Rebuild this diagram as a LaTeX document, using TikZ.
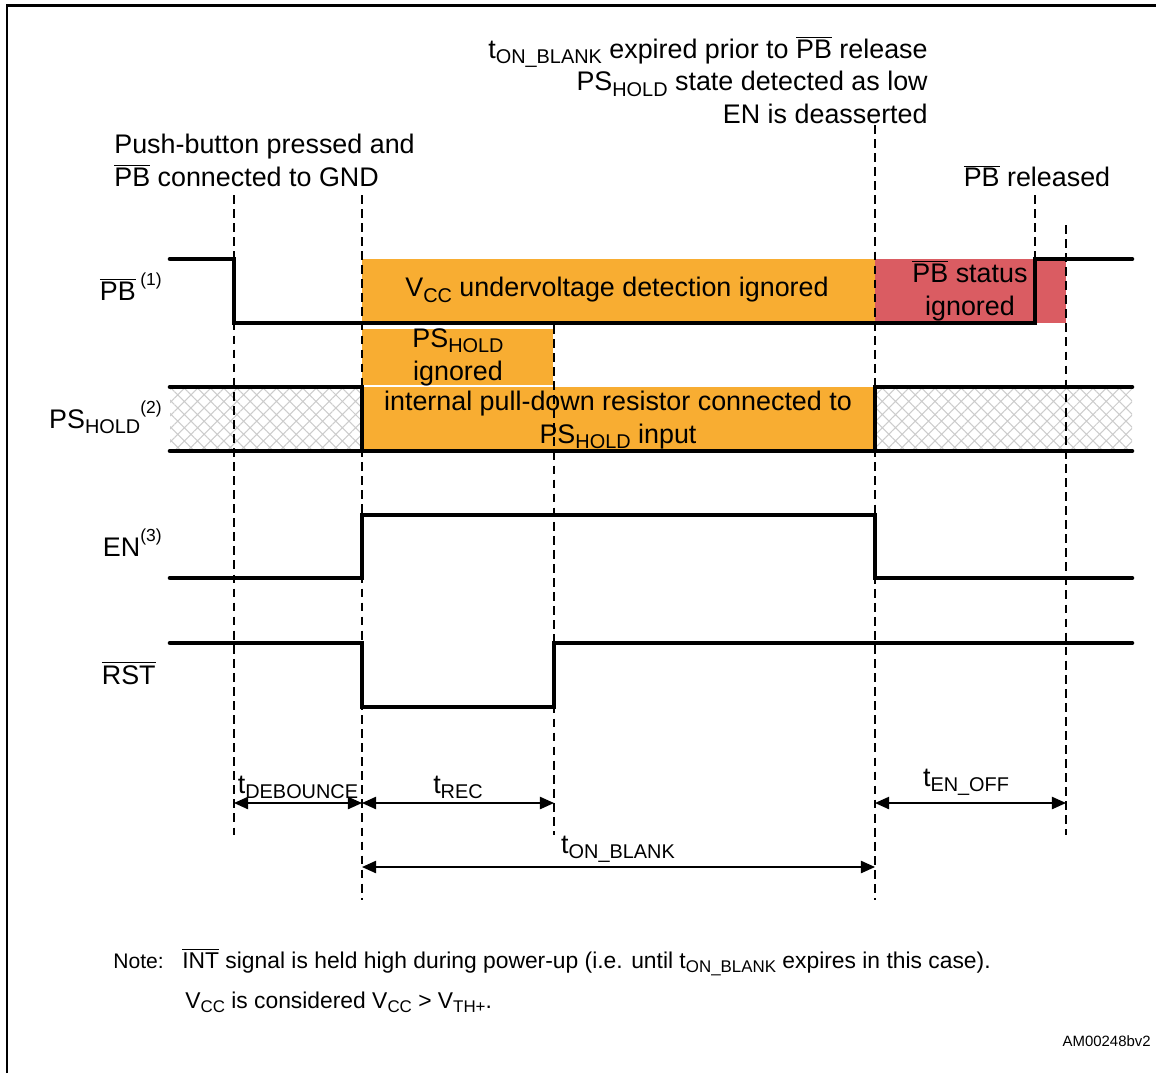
\documentclass[tikz,border=0pt]{standalone}
\usepackage{fontspec}
\setmainfont{Liberation Sans}
\usepackage{graphicx}
\usepackage{xcolor}
\usetikzlibrary{arrows.meta,patterns.meta}
\definecolor{stOrange}{RGB}{248,173,50}
\definecolor{stRed}{RGB}{218,92,98}
\newcommand{\lo}[1]{\raisebox{-0.2em}{\scalebox{0.74}{#1}}}
\newcommand{\hi}[1]{\raisebox{0.55em}{\scalebox{0.65}{#1}}}
\newcommand{\ovl}[1]{$\overline{\mbox{#1}}$}

\begin{document}
\begin{tikzpicture}[
        x=0.02cm, y=-0.02cm,
        sig/.style={line width=2.6pt, line cap=round},
        guide/.style={line width=1.1pt, dash pattern=on 5pt off 3pt},
        dim/.style={line width=0.8pt,
          {Triangle[length=8pt,width=7pt]}-{Triangle[length=8pt,width=7pt]}},
        txt/.style={font=\fontsize{15.3}{18.7}\selectfont, inner sep=0pt},
        sname/.style={txt, anchor=base east},
        box/.style={txt, align=center},
        note/.style={font=\fontsize{13}{15}\selectfont, inner sep=0pt, anchor=base west},
        hatch/.style={pattern={Hatch[angle=45,distance=5.3pt,line width=0.6pt]},
          pattern color=gray!40}
      ]
        \useasboundingbox (0,0) rectangle (1156,1073);

        % frame
        \draw[line width=1.7pt] (7,1073) -- (7,5) -- (1156,5);

        % shaded regions
        \fill[stOrange] (362,259) rectangle (875,323);
        \fill[stRed] (875,259) rectangle (1066,323);
        \fill[stOrange] (362,329) rectangle (553,385);
        \fill[stOrange] (362,387) rectangle (875,451);
        \fill[hatch] (170,387) rectangle (362,451);
        \fill[hatch] (875,387) rectangle (1132,451);

        % guide lines
        \draw[guide] (234,195) -- (234,835);
        \draw[guide] (362,195) -- (362,900);
        \draw[guide] (554,325) -- (554,835);
        \draw[guide] (875,125) -- (875,900);
        \draw[guide] (1035,195) -- (1035,260);
        \draw[guide] (1066,225) -- (1066,835);

        % signals
        \draw[sig] (170,259) -- (234,259) -- (234,323) -- (1035,323) -- (1035,259) -- (1132,259);
        \draw[sig] (170,387) -- (362,387) -- (362,451);
        \draw[sig] (1132,387) -- (875,387) -- (875,451);
        \draw[sig] (170,451) -- (1132,451);
        \draw[sig] (170,578) -- (362,578) -- (362,515) -- (875,515) -- (875,578) -- (1132,578);
        \draw[sig] (170,643) -- (362,643) -- (362,707) -- (554,707) -- (554,643) -- (1132,643);

        % signal names
        \node[sname] (pb) at (162,300) {\ovl{PB}\,\hi{(1)}};
        \node[sname] (pshold) at (162,428) {PS\lo{HOLD}\hi{(2)}};
        \node[sname] (en) at (162,556) {EN\hi{(3)}};
        \node[sname] (rst) at (156,684) {\ovl{RST}};

        % box texts
        \node[box] (vcc) at (617,290) {V\lo{CC} undervoltage detection ignored};
        \node[box] (pbign) at (970,291) {\ovl{PB} status\\ignored};
        \node[box] (psign) at (458,357) {PS\lo{HOLD}\\ignored};
        \node[box] (pulldn) at (618,420) {internal pull-down resistor connected to\\PS\lo{HOLD} input};

        % event texts
        \node[txt, anchor=west, align=left] (press) at (114,160)
          {Push-button pressed and\\\ovl{PB} connected to GND};
        \node[txt, anchor=east, align=right] (expire) at (928,80)
          {t\lo{ON\_BLANK} expired prior to \ovl{PB} release\\PS\lo{HOLD} state detected as low\\EN is deasserted};
        \node[txt] (release) at (1037,176) {\ovl{PB} released};

        % timing
        \coordinate (deb0) at (234,803);
        \coordinate (deb1) at (362,803);
        \coordinate (rec1) at (554,803);
        \coordinate (off0) at (875,803);
        \coordinate (off1) at (1066,803);
        \coordinate (blk0) at (362,867);
        \coordinate (blk1) at (875,867);
        \draw[dim] (deb0) -- (deb1);
        \draw[dim] (deb1) -- (rec1);
        \draw[dim] (off0) -- (off1);
        \draw[dim] (blk0) -- (blk1);
        \node[txt, anchor=base] (tdeb) at (298,793) {t\lo{DEBOUNCE}};
        \node[txt, anchor=base] (trec) at (458,793) {t\lo{REC}};
        \node[txt, anchor=base] (toff) at (966,786) {t\lo{EN\_OFF}};
        \node[txt, anchor=base] (tblk) at (618,853) {t\lo{ON\_BLANK}};

        % note
        \node[note, font=\fontsize{12}{14}\selectfont] (notehd) at (113,968) {Note:};
        \node[note] (note1) at (182,968)
          {\ovl{INT} signal is held high during power-up (i.e. until t\lo{ON\_BLANK} expires in this case).};
        \node[note] (note2) at (185,1008) {V\lo{CC} is considered V\lo{CC} > V\lo{TH+}.};
        \node[font=\fontsize{8.5}{10}\selectfont, inner sep=0pt, anchor=base east] (ref) at (1151,1046) {AM00248bv2};
      \end{tikzpicture}
\end{document}
